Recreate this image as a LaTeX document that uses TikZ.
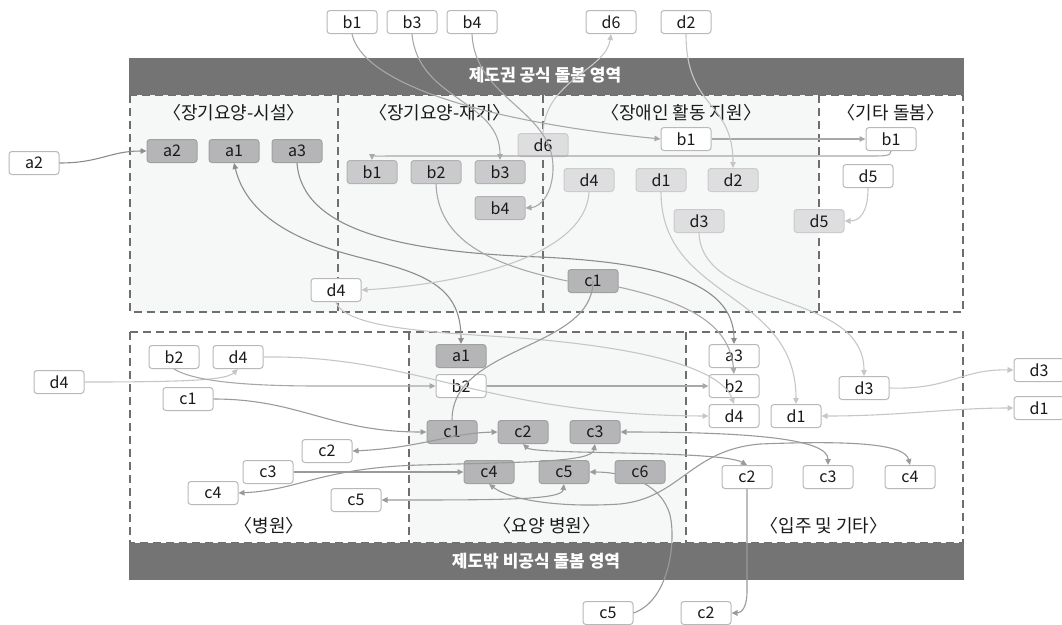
\documentclass[tikz,border=0pt]{standalone}
\usepackage{fontspec}
\setmainfont{Noto Sans CJK KR}
\usetikzlibrary{arrows.meta}
\definecolor{band}{HTML}{747474}
\definecolor{dashc}{HTML}{6E6E6E}
\definecolor{zone}{HTML}{F6F8F8}
\definecolor{fDk}{HTML}{B5B5B7}
\definecolor{bDk}{HTML}{A0A0A0}
\definecolor{fMd}{HTML}{CACACC}
\definecolor{bMd}{HTML}{B2B2B2}
\definecolor{fLt}{HTML}{DEDEE0}
\definecolor{bLt}{HTML}{CBCBCB}
\definecolor{bWt}{HTML}{B8B8B8}
\definecolor{eA}{HTML}{8C8C8C}
\definecolor{eB}{HTML}{A8A8A8}
\definecolor{eC}{HTML}{9A9A9A}
\definecolor{eD}{HTML}{C6C6C6}
\definecolor{txt}{HTML}{1A1A1A}
\begin{document}
\begin{tikzpicture}[x=1pt,y=-1pt,
  box/.style={rounded corners=3pt, minimum width=50pt, minimum height=23pt, inner sep=0pt, line width=1pt, font=\fontsize{16}{16}\selectfont, text=txt},
  dk/.style={box, fill=fDk, draw=bDk},
  md/.style={box, fill=fMd, draw=bMd},
  lt/.style={box, fill=fLt, draw=bLt},
  wt/.style={box, fill=white, draw=bWt},
  ttl/.style={font=\fontsize{18}{18}\selectfont, text=txt, inner sep=0pt},
  bandt/.style={font=\fontsize{17}{17}\selectfont\bfseries, text=white, inner sep=0pt},
  dsh/.style={draw=dashc, line width=2pt, dash pattern=on 8pt off 5pt},
  tip/.style={-{Triangle[length=6pt,width=5.5pt]}},
  both/.style={{Triangle[length=6pt,width=5.5pt]}-{Triangle[length=6pt,width=5.5pt]}},
  ea/.style={draw=eA, line width=1.1pt},
  eb/.style={draw=eB, line width=1.1pt},
  ec/.style={draw=eC, line width=1.1pt},
  ed/.style={draw=eD, line width=1.1pt}
]
\useasboundingbox (0,0) rectangle (1062,624);
% zones
\fill[zone] (130,95) rectangle (819,312);
\fill[zone] (409,332) rectangle (686,543);
\draw[dsh] (130,95) rectangle (963,312);
\draw[dsh] (338,95) -- (338,312);
\draw[dsh] (543,95) -- (543,312);
\draw[dsh] (819,95) -- (819,312);
\draw[dsh] (130,332) rectangle (963,543);
\draw[dsh] (409,332) -- (409,543);
\draw[dsh] (686,332) -- (686,543);
\fill[band] (129,58) rectangle (964,95);
\fill[band] (129,543) rectangle (964,580);
\node[bandt] (bt1) at (545,75) {제도권 공식 돌봄 영역};
\node[bandt] (bt2) at (536,561) {제도밖 비공식 돌봄 영역};
% section titles
\node[ttl] (t1) at (234,113) {〈장기요양-시설〉};
\node[ttl] (t2) at (440,113) {〈장기요양-재가〉};
\node[ttl] (t3) at (681,113) {〈장애인 활동 지원〉};
\node[ttl] (t4) at (891,113) {〈기타 돌봄〉};
\node[ttl] (t5) at (269,526) {〈병원〉};
\node[ttl] (t6) at (547,526) {〈요양 병원〉};
\node[ttl] (t7) at (824,526) {〈입주 및 기타〉};

% nodes upper
\node[wt] (a2o) at (34,163) {a2};
\node[dk] (a2u) at (172,151) {a2};
\node[dk] (a1u) at (234,151) {a1};
\node[dk] (a3u) at (297,151) {a3};
\node[md] (b1u) at (372,172) {b1};
\node[md] (b2u) at (436,172) {b2};
\node[md] (b3u) at (500,172) {b3};
\node[md] (b4u) at (500,208) {b4};
\node[lt] (d6u) at (543,145) {d6};
\node[lt] (d4u) at (589,180) {d4};
\node[lt] (d1u) at (661,180) {d1};
\node[lt] (d2u) at (733,180) {d2};
\node[lt] (d3u) at (699,221) {d3};
\node[lt] (d5u) at (819,221) {d5};
\node[dk] (c1u) at (593,281) {c1};
\node[wt] (b1w) at (686,139) {b1};
\node[wt] (b1k) at (891,139) {b1};
\node[wt] (d5w) at (868,176) {d5};
\node[wt] (d4w) at (336,290) {d4};
\node[wt] (b1t) at (352,22) {b1};
\node[wt] (b3t) at (412,22) {b3};
\node[wt] (b4t) at (472,22) {b4};
\node[wt] (d6t) at (611,22) {d6};
\node[wt] (d2t) at (686,22) {d2};
% nodes lower
\node[wt] (b2w) at (174,357) {b2};
\node[wt] (d4w2) at (238,357) {d4};
\node[wt] (d4o) at (59,382) {d4};
\node[wt] (c1w) at (188,399) {c1};
\node[dk] (a1l) at (461,356) {a1};
\node[wt] (b2m) at (461,386) {b2};
\node[dk] (c1l) at (452,432) {c1};
\node[dk] (c2l) at (523,432) {c2};
\node[dk] (c3l) at (595,432) {c3};
\node[dk] (c4l) at (489,472) {c4};
\node[dk] (c5l) at (564,472) {c5};
\node[wt] (c2w) at (327,451) {c2};
\node[wt] (c3w) at (268,472) {c3};
\node[wt] (c4w) at (213,493) {c4};
\node[wt] (c5w) at (356,500) {c5};
\node[wt] (a3l) at (734,356) {a3};
\node[wt] (b2l) at (734,386) {b2};
\node[wt] (d4l) at (734,416) {d4};
\node[wt] (d1l) at (796,416) {d1};
\node[wt] (d3l) at (864,388) {d3};
\node[wt] (c2r) at (747,477) {c2};
\node[wt] (c3r) at (828,477) {c3};
\node[wt] (c4r) at (910,477) {c4};
\node[wt] (d3o) at (1039,370) {d3};
\node[wt] (d1o) at (1039,408) {d1};
\node[wt] (c5b) at (608,613) {c5};
\node[wt] (c2b) at (706,613) {c2};

% c5 below -> c5 (passes under c6)
\draw[ec,tip] (c5b.east) .. controls (670,600) and (676,540) .. (670,515) .. controls (660,480) and (620,472) .. (c5l.east);
\node[dk] (c6l) at (640,472) {c6};

% edges upper
\draw[ea,tip] (a2o.east) .. controls (100,163) and (110,151) .. (a2u.west);
\draw[eb,tip] (b1t.south) .. controls (362,80) and (470,120) .. (b1w.west);
\draw[eb,tip] (b1w.east) -- (b1k.west);
\draw[eb,tip] (b1k.south) .. controls (891,156) and (885,156) .. (870,156) -- (390,156) .. controls (378,156) and (372,157) .. (b1u.north);
\draw[eb,tip] (b3t.south) .. controls (418,100) and (500,100) .. (b3u.north);
\draw[eb,tip] (b4t.south) .. controls (475,100) and (555,110) .. (553,170) .. controls (552,195) and (540,207) .. (b4u.east);
\draw[ed,tip] (d6u.north) .. controls (545,80) and (606,70) .. (d6t.south);
\draw[ea,tip] (a3u.south) .. controls (302,230) and (400,252) .. (540,257) .. controls (650,262) and (734,280) .. (a3l.north);
\draw[ea,both] (a1u.south) .. controls (250,230) and (330,250) .. (370,260) .. controls (430,275) and (461,290) .. (a1l.north);
\draw[ed,tip] (d4u.south) .. controls (585,260) and (450,285) .. (d4w.east);
\draw[ed,tip] (d4w.south) .. controls (345,330) and (450,333) .. (520,338) .. controls (650,348) and (722,370) .. (d4l.north);
\draw[ed,tip] (d1u.south) .. controls (661,300) and (796,290) .. (d1l.north);
\draw[ed,tip] (d2t.south) .. controls (686,110) and (733,100) .. (d2u.north);
\draw[ed,tip] (d3u.south) .. controls (702,310) and (864,290) .. (d3l.north);
\draw[ed,tip] (d5w.south) .. controls (868,212) and (860,221) .. (d5u.east);
\draw[ec] (c1u.center) .. controls (593,350) and (452,345) .. (c1l.north);
\draw[eb] (b2u.south) .. controls (438,240) and (490,265) .. (c1u.west);
\draw[eb,tip] ([yshift=-6pt]c1u.east) .. controls (700,305) and (730,330) .. (b2l.north);
% edges lower
\draw[ed,tip] (d4o.east) .. controls (190,382) and (226,380) .. (d4w2.south);
\draw[eb,tip] (b2w.south) .. controls (195,382) and (250,386) .. (320,386) -- (b2m.west);
\draw[ed,tip] (d4w2.east) .. controls (420,355) and (480,415) .. (d4l.west);
\draw[eb,tip] (b2m.east) -- (b2l.west);
\draw[ec,tip] (c1w.east) .. controls (300,399) and (330,432) .. (c1l.west);
\draw[ec,both] (c2w.east) .. controls (420,448) and (450,433) .. (c2l.west);
\draw[ec,both] (c2l.south) .. controls (535,455) and (720,450) .. (c2r.north);
\draw[ec,both] (c3l.east) .. controls (760,432) and (828,440) .. (c3r.north);
\draw[ec,tip] (c3w.east) -- (c4l.west);
\draw[ec,both] (c4w.east) .. controls (300,490) and (320,468) .. (420,465) .. controls (530,462) and (592,462) .. (c3l.south);
\draw[ec,both] (c5w.east) .. controls (500,500) and (562,500) .. (c5l.south);
\draw[ec,both] (c4l.south) .. controls (510,500) and (560,508) .. (620,504) .. controls (680,498) and (690,450) .. (760,444) .. controls (860,440) and (905,445) .. (c4r.north);
\draw[ec,tip] (c2r.south) -- (747,592) .. controls (747,606) and (742,613) .. (c2b.east);
\draw[ed,tip] (d3l.east) .. controls (950,390) and (960,369) .. (d3o.west);
\draw[ed,both] (d1l.east) .. controls (900,416) and (950,408) .. (d1o.west);
\end{tikzpicture}
\end{document}
